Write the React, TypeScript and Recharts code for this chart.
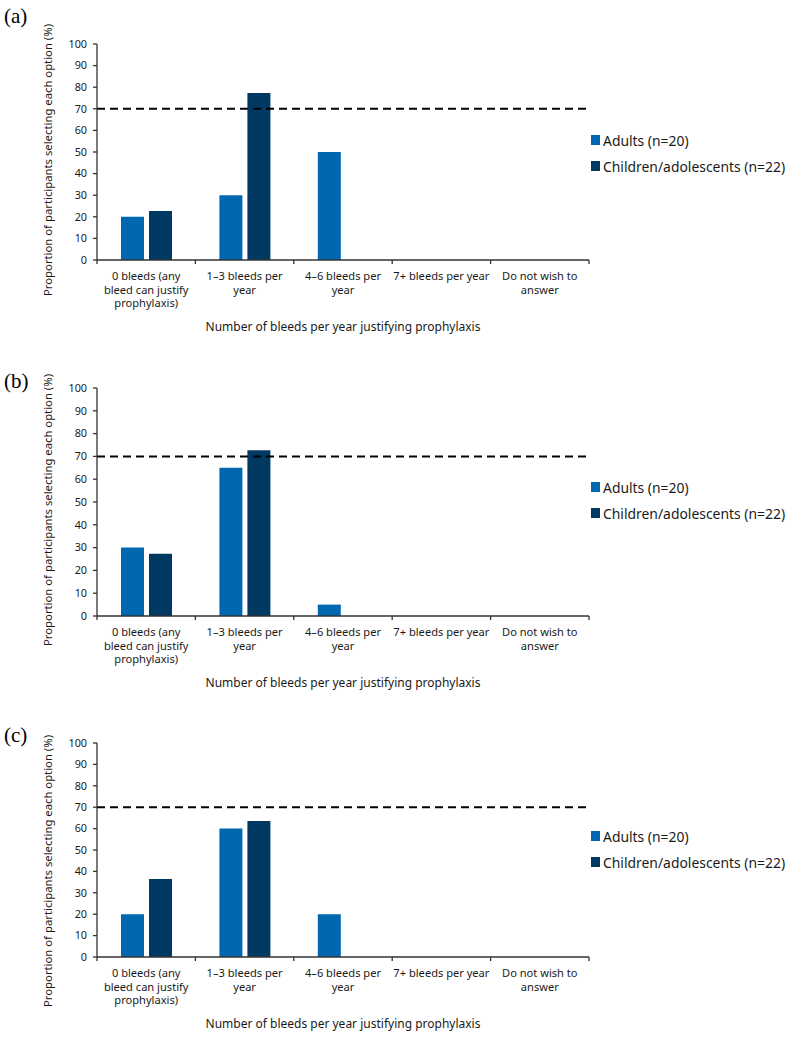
import React from 'react';
import { BarChart, Bar, XAxis, YAxis, ReferenceLine, Legend } from 'recharts';

const categories = [
  '0 bleeds (any bleed can justify prophylaxis)',
  '1–3 bleeds per year',
  '4–6 bleeds per year',
  '7+ bleeds per year',
  'Do not wish to answer',
];
const tickLines = [
  ['0 bleeds (any', 'bleed can justify', 'prophylaxis)'],
  ['1–3 bleeds per', 'year'],
  ['4–6 bleeds per', 'year'],
  ['7+ bleeds per year'],
  ['Do not wish to', 'answer'],
];
const adultsA = [20, 30, 50, 0, 0];
const childrenA = [22.7, 77.3, 0, 0, 0];
const adultsB = [30, 65, 5, 0, 0];
const childrenB = [27.3, 72.7, 0, 0, 0];
const adultsC = [20, 60, 20, 0, 0];
const childrenC = [36.4, 63.6, 0, 0, 0];
const yTicks = [0, 10, 20, 30, 40, 50, 60, 70, 80, 90, 100];
const threshold = 70;
const panelLabels = ['(a)', '(b)', '(c)'];
const seriesNames = ['Adults (n=20)', 'Children/adolescents (n=22)'];
const xTitle = 'Number of bleeds per year justifying prophylaxis';
const yTitle = 'Proportion of participants selecting each option (%)';

const FONT = '"Noto Sans", "DejaVu Sans", sans-serif';
const ADULT_COLOR = '#0067b1';
const CHILD_COLOR = '#003a63';
const AXIS_COLOR = '#333333';
const TEXT_COLOR = '#1a1a1a';

const buildData = (adults: number[], children: number[]) =>
  categories.map((c, i) => ({ category: c, adults: adults[i], children: children[i] }));

const panels = [
  { label: panelLabels[0], data: buildData(adultsA, childrenA), top: 0, height: 345, plotTop: 44, labelTop: 4, legendTop: 127, yTitleDy: 8 },
  { label: panelLabels[1], data: buildData(adultsB, childrenB), top: 345, height: 356, plotTop: 43, labelTop: 24, legendTop: 129, yTitleDy: 8 },
  { label: panelLabels[2], data: buildData(adultsC, childrenC), top: 701, height: 341, plotTop: 42, labelTop: 22, legendTop: 122, yTitleDy: 21 },
];

const CategoryTick = (props: any) => {
  const { x, y, payload, width, visibleTicksCount, index } = props;
  const idx = categories.indexOf(payload.value);
  const lines = tickLines[idx] || [payload.value];
  const half = width / (visibleTicksCount || categories.length) / 2;
  return (
    <g>
      <line x1={x - half} x2={x - half} y1={y} y2={y + 4} stroke={AXIS_COLOR} strokeWidth={1.3} />
      {index === visibleTicksCount - 1 && (
        <line x1={x + half} x2={x + half} y1={y} y2={y + 4} stroke={AXIS_COLOR} strokeWidth={1.3} />
      )}
      <text x={x} y={y} textAnchor="middle" fontFamily={FONT} fontSize={11.1} fill={TEXT_COLOR}>
        {lines.map((l, i) => (
          <tspan key={i} x={x} dy={i === 0 ? 20 : 13.5}>
            {l}
          </tspan>
        ))}
      </text>
    </g>
  );
};

const LegendContent = (props: any) => {
  const { payload } = props;
  return (
    <div style={{ fontFamily: FONT, fontSize: 13.9, color: TEXT_COLOR }}>
      {(payload || []).map((entry: any, i: number) => (
        <div key={i} style={{ display: 'flex', alignItems: 'center', height: 26, whiteSpace: 'nowrap' }}>
          <span style={{ display: 'inline-block', width: 9, height: 10, background: entry.color, marginRight: 3 }} />
          <span>{entry.value}</span>
        </div>
      ))}
    </div>
  );
};

const Panel = ({ panel }: { panel: (typeof panels)[number] }) => (
  <div style={{ position: 'absolute', left: 0, top: panel.top, width: 795, height: panel.height }}>
    <div
      style={{
        position: 'absolute',
        left: 4,
        top: panel.labelTop,
        fontFamily: '"Liberation Serif", "Times New Roman", serif',
        fontSize: 21,
        color: '#000',
        zIndex: 2,
      }}
    >
      {panel.label}
    </div>
    <BarChart
      width={795}
      height={panel.height}
      data={panel.data}
      margin={{ top: panel.plotTop, right: 206, left: 0, bottom: 0 }}
      barGap={5}
      barSize={23}
    >
      <XAxis
        dataKey="category"
        height={85}
        axisLine={{ stroke: AXIS_COLOR, strokeWidth: 1.3 }}
        tickLine={false}
        tickSize={0}
        tickMargin={0}
        interval={0}
        tick={<CategoryTick />}
        label={{
          value: xTitle,
          position: 'insideBottom',
          offset: 14,
          fontFamily: FONT,
          fontSize: 12,
          fill: TEXT_COLOR,
        }}
      />
      <YAxis
        width={97}
        domain={[0, 100]}
        ticks={yTicks}
        interval={0}
        tickSize={4}
        tickMargin={6}
        axisLine={{ stroke: AXIS_COLOR, strokeWidth: 1.3 }}
        tickLine={{ stroke: AXIS_COLOR, strokeWidth: 1.3 }}
        tick={{ fontFamily: FONT, fontSize: 10.8, fill: TEXT_COLOR }}
        label={{
          value: yTitle,
          angle: -90,
          position: 'center',
          dx: -1,
          dy: panel.yTitleDy,
          fontFamily: FONT,
          fontSize: 11.3,
          fill: TEXT_COLOR,
        }}
      />
      <ReferenceLine y={threshold} stroke="#000" strokeWidth={2} strokeDasharray="8 5" ifOverflow="extendDomain" />
      <Legend
        layout="vertical"
        align="center"
        verticalAlign="middle"
        wrapperStyle={{ left: 591, top: panel.legendTop, width: 204 }}
        content={<LegendContent />}
      />
      <Bar dataKey="adults" name={seriesNames[0]} fill={ADULT_COLOR} isAnimationActive={false} />
      <Bar dataKey="children" name={seriesNames[1]} fill={CHILD_COLOR} isAnimationActive={false} />
    </BarChart>
  </div>
);

export default function App() {
  return (
    <div style={{ position: 'absolute', left: 0, top: 0, width: 795, height: 1044, background: '#fff' }}>
      {panels.map((p, i) => (
        <Panel key={i} panel={p} />
      ))}
    </div>
  );
}
